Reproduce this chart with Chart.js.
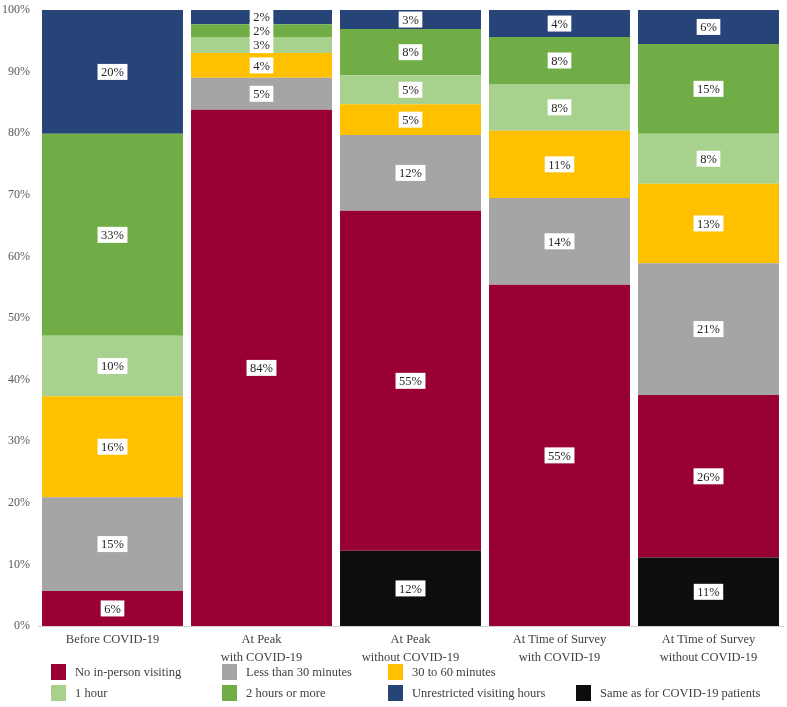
<!DOCTYPE html>
<html lang="en">

<head>
    <meta charset="UTF-8">
    <title>Visiting policy</title>
    <script src="https://cdn.jsdelivr.net/npm/chart.js@4.4.1/dist/chart.umd.min.js"></script>
    <style>
        body { margin: 0; background: #fff; }
        #wrap { position: relative; width: 787px; height: 707px; }
    </style>
</head>

<body>
    <div id="wrap">
        <canvas id="myChart" width="787" height="707"></canvas>
    </div>

    <script>
        // categories (x axis)
        const categories = [
            'Before COVID-19',
            ['At Peak', 'with COVID-19'],
            ['At Peak', 'without COVID-19'],
            ['At Time of Survey', 'with COVID-19'],
            ['At Time of Survey', 'without COVID-19']
        ];

        // percentages
        const sameAsCovid = [0, 0, 12.2, 0, 11.1];
        const noVisiting = [5.7, 83.8, 55.2, 55.4, 26.4];
        const lessThan30 = [15.2, 5.2, 12.3, 14.1, 21.4];
        const thirtyTo60 = [16.4, 4.0, 5.0, 10.9, 12.9];
        const oneHour = [9.8, 2.6, 4.7, 7.6, 8.1];
        const twoHours = [32.8, 2.1, 7.5, 7.6, 14.6];
        const unrestricted = [20.1, 2.3, 3.1, 4.4, 5.5];

        const yTicks = [0, 10, 20, 30, 40, 50, 60, 70, 80, 90, 100];

        const FONT = "'Liberation Serif', 'Times New Roman', serif";

        // stacked bottom -> top
        const datasets = [
            { label: 'Same as for COVID-19 patients', data: sameAsCovid, backgroundColor: '#0d0d0d' },
            { label: 'No in-person visiting', data: noVisiting, backgroundColor: '#990033' },
            { label: 'Less than 30 minutes', data: lessThan30, backgroundColor: '#a5a5a5' },
            { label: '30 to 60 minutes', data: thirtyTo60, backgroundColor: '#ffc000' },
            { label: '1 hour', data: oneHour, backgroundColor: '#a9d18e' },
            { label: '2 hours or more', data: twoHours, backgroundColor: '#70ad47' },
            { label: 'Unrestricted visiting hours', data: unrestricted, backgroundColor: '#264478' }
        ];

        // legend grid: [dataset index, x, y]
        const legendItems = [
            [1, 51, 664], [2, 222, 664], [3, 388, 664],
            [4, 51, 685], [5, 222, 685], [6, 388, 685], [0, 576, 685]
        ];

        // white boxed value labels in the middle of each segment
        const valueLabels = {
            id: 'valueLabels',
            afterDatasetsDraw(chart) {
                const ctx = chart.ctx;
                ctx.save();
                ctx.font = '12.5px ' + FONT;
                ctx.textAlign = 'center';
                ctx.textBaseline = 'middle';
                chart.data.datasets.forEach((ds, i) => {
                    const meta = chart.getDatasetMeta(i);
                    meta.data.forEach((bar, j) => {
                        const v = ds.data[j];
                        if (!v) return;
                        const txt = Math.round(v) + '%';
                        const cy = (bar.y + bar.base) / 2;
                        const w = ctx.measureText(txt).width + 7;
                        ctx.fillStyle = '#fff';
                        ctx.fillRect(bar.x - w / 2, cy - 8, w, 16);
                        ctx.fillStyle = '#262626';
                        ctx.fillText(txt, bar.x, cy + 1);
                    });
                });
                ctx.restore();
            }
        };

        const customLegend = {
            id: 'customLegend',
            afterDraw(chart) {
                const ctx = chart.ctx;
                ctx.save();
                ctx.font = '12.5px ' + FONT;
                ctx.textBaseline = 'middle';
                legendItems.forEach(([i, x, y]) => {
                    const ds = chart.data.datasets[i];
                    ctx.fillStyle = ds.backgroundColor;
                    ctx.fillRect(x, y, 15, 16);
                    ctx.fillStyle = '#404040';
                    ctx.fillText(ds.label, x + 24, y + 9);
                });
                ctx.restore();
            }
        };

        const ctx = document.getElementById('myChart').getContext('2d');
        new Chart(ctx, {
            type: 'bar',
            data: {
                labels: categories,
                datasets: datasets.map(d => Object.assign({ barPercentage: 0.946, categoryPercentage: 1, borderWidth: 0 }, d))
            },
            options: {
                responsive: false,
                animation: false,
                layout: { padding: { top: 10, right: 4, left: 0, bottom: 0 } },
                plugins: {
                    legend: { display: false },
                    tooltip: { enabled: false }
                },
                scales: {
                    x: {
                        stacked: true,
                        grid: { display: false, drawTicks: false },
                        border: { display: true, color: '#d0d0d0', width: 1 },
                        ticks: {
                            color: '#404040',
                            padding: 5,
                            maxRotation: 0,
                            font: { family: FONT, size: 12.5, lineHeight: 1.4 }
                        },
                        afterFit(scale) { scale.height = 81; }
                    },
                    y: {
                        stacked: true,
                        min: 0,
                        max: 100,
                        grid: { display: false, drawTicks: false },
                        border: { display: false },
                        afterBuildTicks(scale) { scale.ticks = yTicks.map(v => ({ value: v })); },
                        ticks: {
                            color: '#595959',
                            padding: 8,
                            font: { family: FONT, size: 12 },
                            callback: v => v + '%'
                        },
                        afterFit(scale) {
                            scale.width = 38;
                            scale.paddingTop = 0;
                            scale.paddingBottom = 0;
                        }
                    }
                }
            },
            plugins: [valueLabels, customLegend]
        });
    </script>
</body>

</html>
